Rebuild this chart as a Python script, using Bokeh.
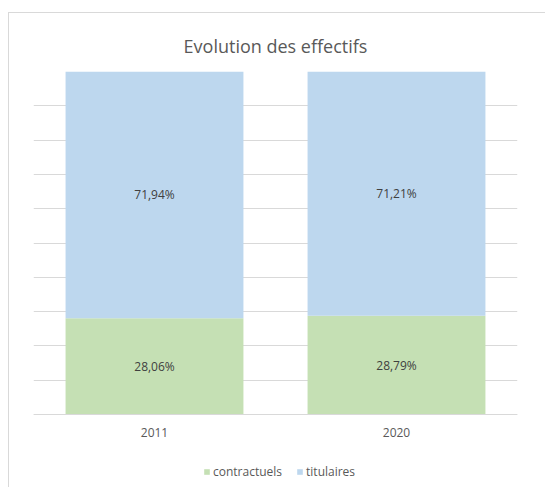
from bokeh.plotting import figure
from bokeh.models import FactorRange, Range1d, FixedTicker, Legend, LegendItem, ColumnDataSource
from bokeh.core.properties import value
from bokeh.embed import file_html
from bokeh.resources import INLINE

years = ["2011", "2020"]
contractuels = [28.06, 28.79]
titulaires = [71.94, 71.21]
series = ["contractuels", "titulaires"]
colors = ["#C5E0B4", "#BDD7EE"]
title_text = "Evolution des effectifs"

FONT = "Open Sans"
W, H = 537, 475
TOP, LEFT, RIGHT = 58, 24, 29
PLOT_PX = 343          # pixel height of the 0..100 % band
frame_h = H - TOP      # frame runs to the bottom edge (legend lives inside it)
y_start = -(frame_h - PLOT_PX) * 100.0 / PLOT_PX

p = figure(x_range=FactorRange(*years, range_padding=0), y_range=Range1d(y_start, 100),
           width=W, height=H, output_backend="svg", toolbar_location=None,
           min_border_left=LEFT, min_border_right=RIGHT, min_border_top=TOP, min_border_bottom=0)
p.styles = {"position": "relative", "left": "9px", "top": "13px",
            "box-shadow": "-1px -1px 0 0 #D9D9D9"}
p.background_fill_color = "white"
p.border_fill_color = "white"
p.outline_line_color = None

src = ColumnDataSource(dict(year=years, contractuels=contractuels, titulaires=titulaires))
rs = p.vbar_stack(series, x="year", width=0.735, source=src, color=colors, line_color=None)

# data labels at the middle of each segment
c_mid = [v / 2 for v in contractuels]
t_mid = [c + t / 2 for c, t in zip(contractuels, titulaires)]
lab_c = [f"{v:.2f}%".replace(".", ",") for v in contractuels]
lab_t = [f"{v:.2f}%".replace(".", ",") for v in titulaires]
p.text(x=years, y=c_mid, text=lab_c, text_align="center", text_baseline="middle",
       text_font=value(FONT), text_font_size="12px", text_color="#404040")
p.text(x=years, y=t_mid, text=lab_t, text_align="center", text_baseline="middle",
       text_font=value(FONT), text_font_size="12px", text_color="#404040")

p.title.text = title_text
p.title.align = "center"
p.title.offset = -8
p.title.text_font = FONT
p.title.text_font_size = "18px"
p.title.text_font_style = "normal"
p.title.text_color = "#595959"
p.title.standoff = 27

p.yaxis.visible = False
p.ygrid.ticker = FixedTicker(ticks=list(range(0, 101, 10)))
p.ygrid.grid_line_color = "#D9D9D9"
p.xgrid.grid_line_color = None

xa = p.xaxis[0]
xa.fixed_location = 0
xa.axis_line_color = "#D9D9D9"
xa.major_tick_line_color = None
xa.minor_tick_line_color = None
xa.major_label_text_font = FONT
xa.major_label_text_font_size = "12px"
xa.major_label_text_color = "#595959"
xa.major_label_standoff = 7

legend = Legend(items=[LegendItem(label=s, renderers=[r]) for s, r in zip(series, rs)],
                orientation="horizontal", location=(170, 8),
                glyph_width=7, glyph_height=7, label_standoff=3, spacing=14,
                padding=0, margin=0, border_line_color=None, background_fill_alpha=0,
                label_text_font=FONT, label_text_font_size="12px", label_text_color="#595959")
p.add_layout(legend, "center")

open("out.html", "w").write(file_html(p, INLINE))
